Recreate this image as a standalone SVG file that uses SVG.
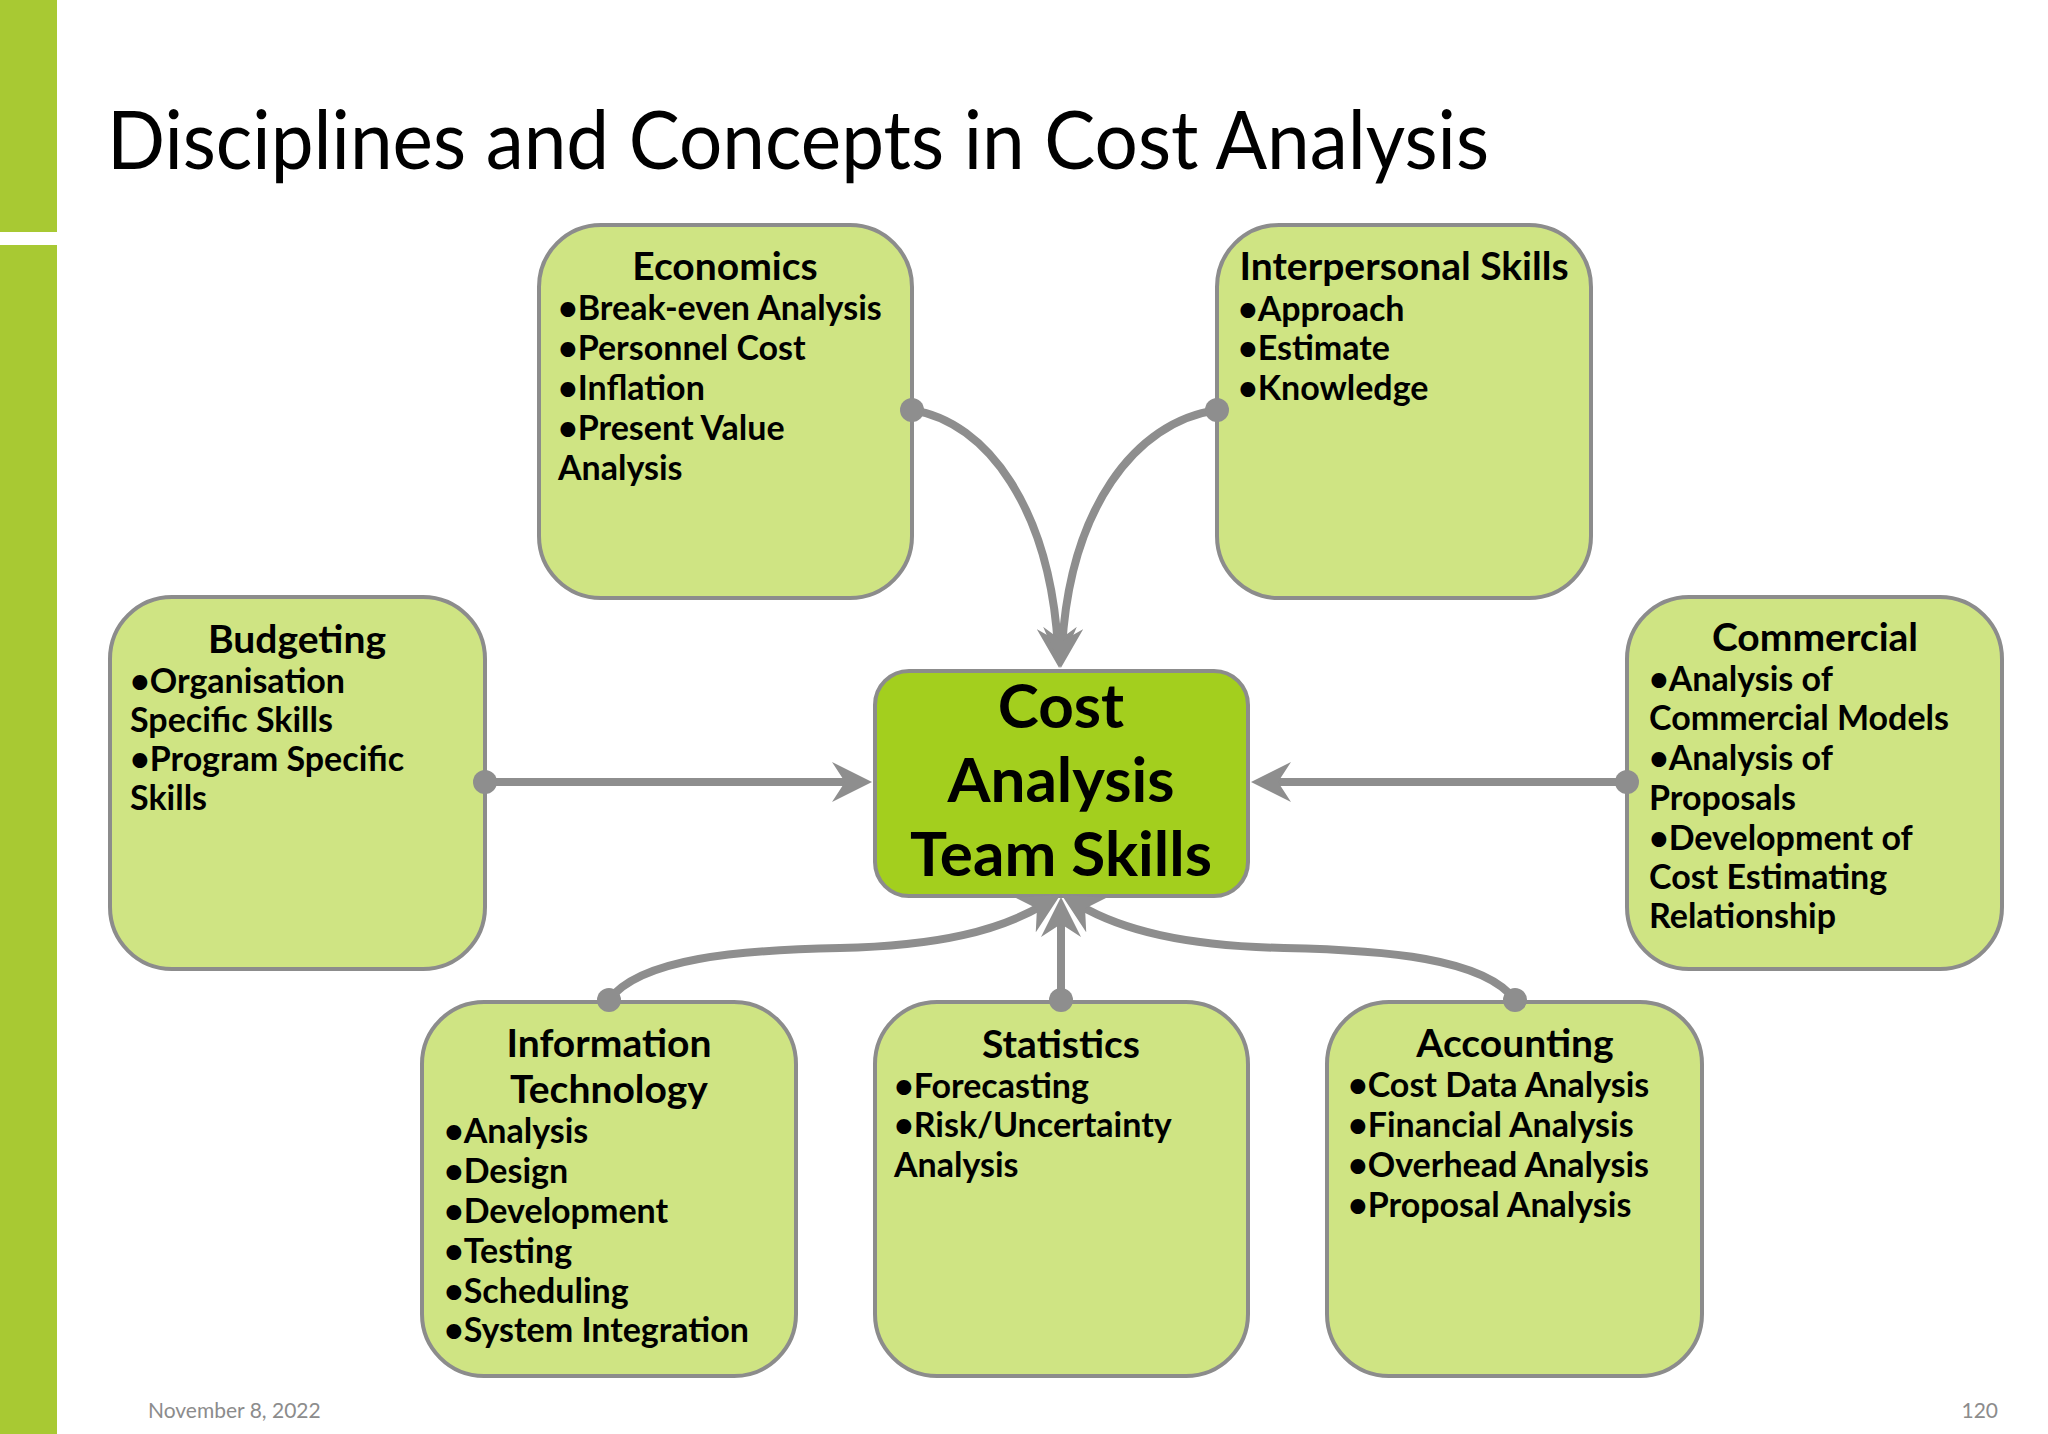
<svg xmlns="http://www.w3.org/2000/svg" width="2048" height="1434" viewBox="0 0 2048 1434">
<defs>
<style>
.box{fill:#cfe483;stroke:#8c8c8c;stroke-width:4}
.core{fill:#a3cf1e;stroke:#8c8c8c;stroke-width:4}
.hd{font-family:Lato,"Liberation Sans",sans-serif;font-weight:bold;font-size:39px;fill:#000;text-anchor:middle}
.bl{font-family:Lato,"Liberation Sans",sans-serif;font-weight:bold;font-size:34px;fill:#000}
.ct{font-family:Lato,"Liberation Sans",sans-serif;font-weight:bold;font-size:62px;fill:#000;text-anchor:middle}
.ln{fill:none;stroke:#8e8e8e;stroke-width:8}
.dot{fill:#8e8e8e}
.ft{font-family:Lato,"Liberation Sans",sans-serif;font-size:21px;fill:#8c8c8c}
</style>
<marker id="ah" viewBox="-20 -20 40 40" refX="0" refY="0" markerWidth="40" markerHeight="40" markerUnits="userSpaceOnUse" orient="auto">
<path d="M20,0 L-20,-20 L-7,0 L-20,20 Z" fill="#8e8e8e"/>
</marker>
</defs>
<rect width="2048" height="1434" fill="#ffffff"/>
<rect x="0" y="0" width="57" height="232" fill="#a8c933"/>
<rect x="0" y="245" width="57" height="1189" fill="#a8c933"/>
<text x="107" y="169" font-family="Lato,'Liberation Sans',sans-serif" font-size="82" fill="#000" textLength="1382" lengthAdjust="spacingAndGlyphs">Disciplines and Concepts in Cost Analysis</text>

<g id="economics">
<rect class="box" x="539" y="225" width="373" height="373" rx="62"/>
<text class="hd" x="725" y="280">Economics</text>
<text class="bl" x="558" y="320">•Break-even Analysis</text>
<text class="bl" x="558" y="360">•Personnel Cost</text>
<text class="bl" x="558" y="400">•Inflation</text>
<text class="bl" x="558" y="440">•Present Value</text>
<text class="bl" x="558" y="480">Analysis</text>
</g>
<g id="interpersonal">
<rect class="box" x="1217" y="225" width="374" height="373" rx="62"/>
<text class="hd" x="1404" y="280">Interpersonal Skills</text>
<text class="bl" x="1238" y="321">•Approach</text>
<text class="bl" x="1238" y="360">•Estimate</text>
<text class="bl" x="1238" y="400">•Knowledge</text>
</g>
<g id="budgeting">
<rect class="box" x="110" y="597" width="375" height="372" rx="62"/>
<text class="hd" x="297" y="653">Budgeting</text>
<text class="bl" x="130" y="693">•Organisation</text>
<text class="bl" x="130" y="732">Specific Skills</text>
<text class="bl" x="130" y="771">•Program Specific</text>
<text class="bl" x="130" y="810">Skills</text>
</g>
<g id="commercial">
<rect class="box" x="1627" y="597" width="375" height="372" rx="62"/>
<text class="hd" x="1815" y="651">Commercial</text>
<text class="bl" x="1649" y="691">•Analysis of</text>
<text class="bl" x="1649" y="730">Commercial Models</text>
<text class="bl" x="1649" y="770">•Analysis of</text>
<text class="bl" x="1649" y="810">Proposals</text>
<text class="bl" x="1649" y="850">•Development of</text>
<text class="bl" x="1649" y="889">Cost Estimating</text>
<text class="bl" x="1649" y="928">Relationship</text>
</g>
<g id="center">
<rect class="core" x="875" y="671" width="373" height="225" rx="34"/>
<text class="ct" x="1061" y="728">Cost</text>
<text class="ct" x="1061" y="802">Analysis</text>
<text class="ct" x="1061" y="876">Team Skills</text>
</g>
<g id="infotech">
<rect class="box" x="422" y="1002" width="374" height="374" rx="62"/>
<text class="hd" x="609" y="1057">Information</text>
<text class="hd" x="609" y="1103">Technology</text>
<text class="bl" x="444" y="1143">•Analysis</text>
<text class="bl" x="444" y="1183">•Design</text>
<text class="bl" x="444" y="1223">•Development</text>
<text class="bl" x="444" y="1263">•Testing</text>
<text class="bl" x="444" y="1303">•Scheduling</text>
<text class="bl" x="444" y="1342">•System Integration</text>
</g>
<g id="statistics">
<rect class="box" x="875" y="1002" width="373" height="374" rx="62"/>
<text class="hd" x="1061" y="1058">Statistics</text>
<text class="bl" x="894" y="1098">•Forecasting</text>
<text class="bl" x="894" y="1137">•Risk/Uncertainty</text>
<text class="bl" x="894" y="1177">Analysis</text>
</g>
<g id="accounting">
<rect class="box" x="1327" y="1002" width="375" height="374" rx="62"/>
<text class="hd" x="1515" y="1057">Accounting</text>
<text class="bl" x="1348" y="1097">•Cost Data Analysis</text>
<text class="bl" x="1348" y="1137">•Financial Analysis</text>
<text class="bl" x="1348" y="1177">•Overhead Analysis</text>
<text class="bl" x="1348" y="1217">•Proposal Analysis</text>
</g>

<g id="connectors">
<path class="ln" marker-end="url(#ah)" d="M912,410 C988,422 1050,510 1058,648"/>
<path class="ln" marker-end="url(#ah)" d="M1217,410 C1134,422 1070,510 1062,648"/>
<path class="ln" marker-end="url(#ah)" d="M485,782 L852,782"/>
<path class="ln" marker-end="url(#ah)" d="M1627,782 L1271,782"/>
<path class="ln" marker-end="url(#ah)" d="M609,1000 C640,958 740,950 840,948 C940,946 1000,930 1043,905"/>
<path class="ln" marker-end="url(#ah)" d="M1515,1000 C1484,958 1384,950 1284,948 C1184,946 1122,930 1079,905"/>
<path class="ln" marker-end="url(#ah)" d="M1061,1000 L1061,917"/>
<circle class="dot" cx="912" cy="410" r="12"/>
<circle class="dot" cx="1217" cy="410" r="12"/>
<circle class="dot" cx="485" cy="782" r="12"/>
<circle class="dot" cx="1627" cy="782" r="12"/>
<circle class="dot" cx="609" cy="1000" r="12"/>
<circle class="dot" cx="1061" cy="1000" r="12"/>
<circle class="dot" cx="1515" cy="1000" r="12"/>
</g>
<text class="ft" x="148" y="1418">November 8, 2022</text>
<text class="ft" x="1998" y="1418" text-anchor="end">120</text>
</svg>
